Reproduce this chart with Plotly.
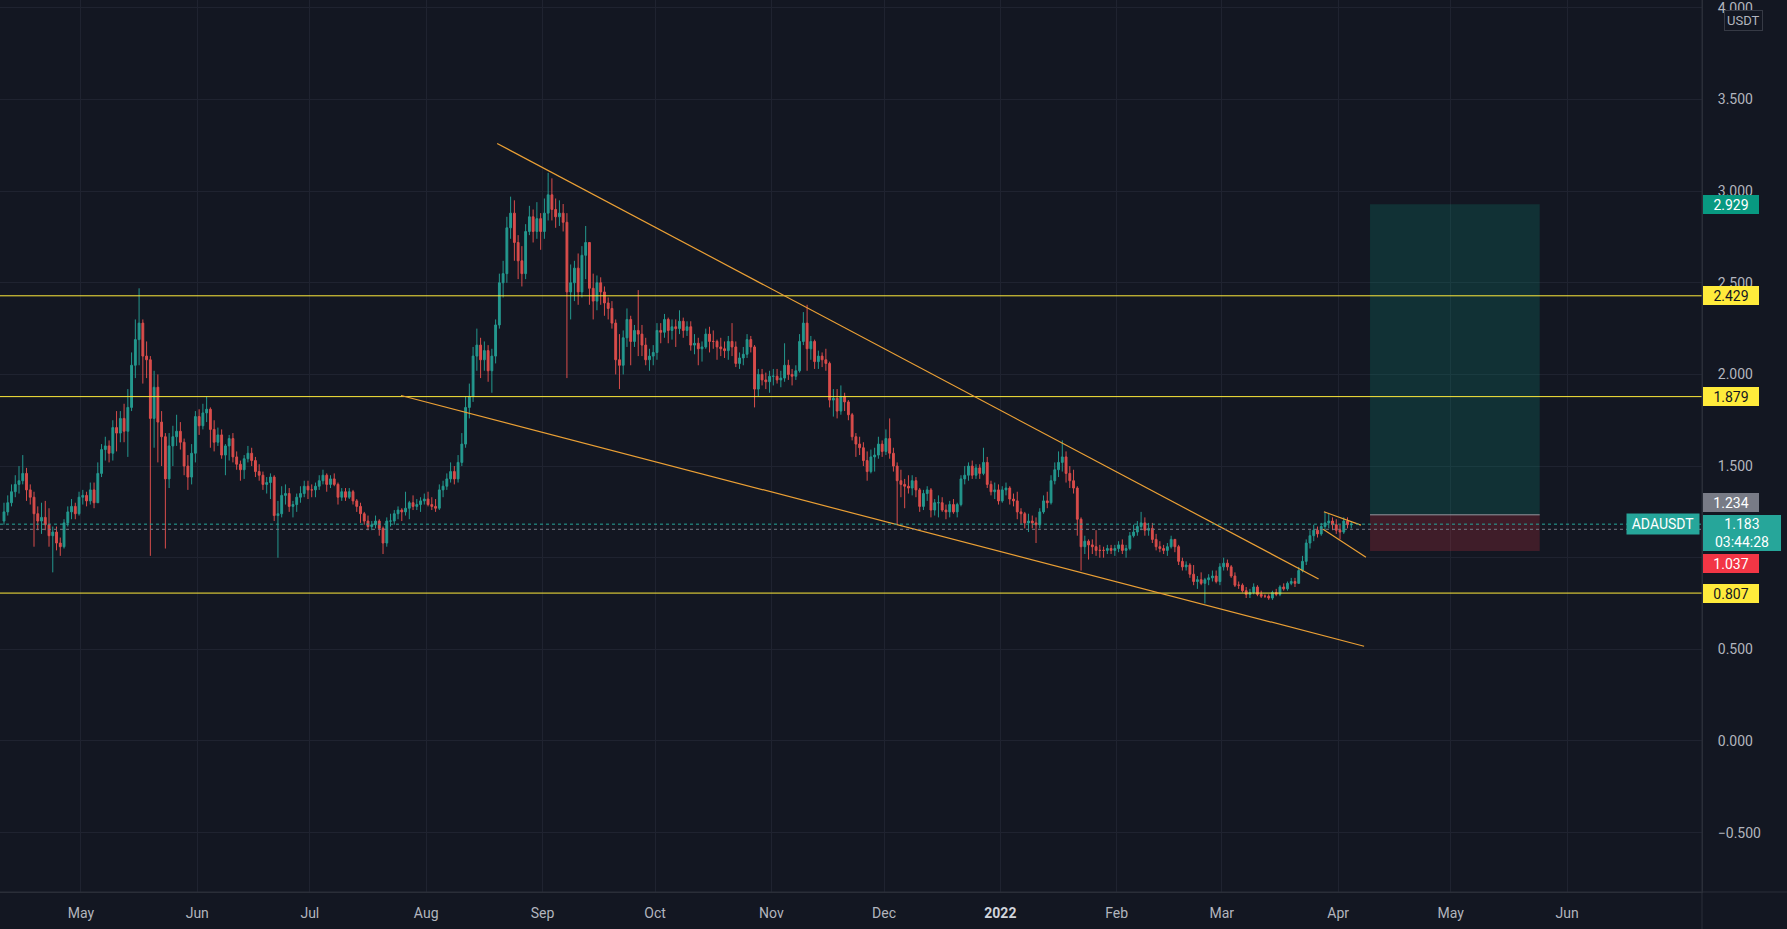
import pandas as pd
import plotly.graph_objects as go

# ---------------- data (daily candles) ----------------
start_day = "2021-04-10"
first_open = 1.20

closes = [
    # Apr 10-30 2021
    1.25, 1.30, 1.36, 1.40, 1.42, 1.46, 1.37, 1.33, 1.24, 1.20, 1.22, 1.18, 1.12, 1.14, 1.08, 1.06, 1.19, 1.25, 1.28, 1.24, 1.33,
    # May
    1.34, 1.31, 1.37, 1.30, 1.46, 1.59, 1.61, 1.57, 1.71, 1.68, 1.76, 1.69, 1.82, 2.05, 2.19, 2.28, 2.10, 2.08, 1.76, 1.93, 1.74, 1.66, 1.43, 1.61, 1.66, 1.69, 1.63, 1.50, 1.44, 1.57, 1.77,
    # Jun
    1.72, 1.79, 1.81, 1.70, 1.63, 1.67, 1.56, 1.61, 1.65, 1.55, 1.51, 1.48, 1.54, 1.57, 1.53, 1.47, 1.45, 1.40, 1.41, 1.44, 1.23, 1.24, 1.34, 1.35, 1.28, 1.29, 1.33, 1.35, 1.39, 1.37,
    # Jul
    1.37, 1.39, 1.42, 1.45, 1.40, 1.43, 1.40, 1.33, 1.36, 1.33, 1.36, 1.31, 1.28, 1.24, 1.20, 1.17, 1.18, 1.20, 1.16, 1.08, 1.20, 1.20, 1.24, 1.26, 1.25, 1.27, 1.30, 1.28, 1.29, 1.31, 1.32,
    # Aug
    1.29, 1.28, 1.27, 1.37, 1.39, 1.43, 1.47, 1.43, 1.52, 1.62, 1.82, 1.88, 2.10, 2.16, 2.08, 2.13, 2.02, 2.10, 2.27, 2.50, 2.55, 2.80, 2.88, 2.72, 2.62, 2.55, 2.78, 2.86, 2.78, 2.85, 2.78,
    # Sep
    2.88, 2.98, 2.90, 2.86, 2.88, 2.83, 2.45, 2.50, 2.58, 2.45, 2.65, 2.72, 2.47, 2.40, 2.50, 2.45, 2.39, 2.36, 2.28, 2.08, 2.05, 2.20, 2.30, 2.18, 2.24, 2.22, 2.16, 2.08, 2.10, 2.12,
    # Oct
    2.24, 2.23, 2.30, 2.24, 2.26, 2.25, 2.29, 2.24, 2.26, 2.16, 2.17, 2.14, 2.15, 2.22, 2.18, 2.18, 2.15, 2.14, 2.13, 2.18, 2.15, 2.06, 2.09, 2.11, 2.19, 2.15, 1.92, 2.00, 1.97, 1.96, 1.99,
    # Nov
    1.99, 1.97, 1.98, 2.05, 2.00, 1.99, 2.02, 2.18, 2.28, 2.14, 2.18, 2.07, 2.10, 2.08, 2.06, 1.86, 1.87, 1.80, 1.88, 1.85, 1.78, 1.66, 1.62, 1.60, 1.53, 1.47, 1.55, 1.56, 1.62, 1.58,
    # Dec
    1.65, 1.57, 1.50, 1.42, 1.40, 1.39, 1.38, 1.42, 1.37, 1.28, 1.35, 1.37, 1.26, 1.30, 1.30, 1.26, 1.25, 1.29, 1.25, 1.29, 1.43, 1.45, 1.50, 1.45, 1.49, 1.46, 1.52, 1.40, 1.36, 1.37, 1.31,
    # Jan 2022
    1.37, 1.38, 1.32, 1.31, 1.25, 1.24, 1.19, 1.20, 1.19, 1.18, 1.25, 1.31, 1.30, 1.42, 1.48, 1.52, 1.55, 1.46, 1.42, 1.38, 1.21, 1.06, 1.09, 1.07, 1.06, 1.04, 1.04, 1.04, 1.05, 1.04, 1.05,
    # Feb
    1.07, 1.04, 1.05, 1.12, 1.14, 1.17, 1.19, 1.15, 1.16, 1.10, 1.06, 1.05, 1.04, 1.06, 1.10, 1.06, 0.98, 0.95, 0.96, 0.91, 0.87, 0.88, 0.86, 0.88, 0.89, 0.90, 0.87, 0.95,
    # Mar
    0.97, 0.95, 0.90, 0.85, 0.85, 0.82, 0.80, 0.81, 0.84, 0.80, 0.79, 0.79, 0.78, 0.81, 0.80, 0.84, 0.83, 0.86, 0.87, 0.86, 0.93, 0.98, 1.08, 1.12, 1.15, 1.13, 1.17, 1.19, 1.20, 1.18, 1.15,
    # Apr 1-4
    1.14, 1.20, 1.18, 1.183,
]

highs = [
    1.30, 1.34, 1.40, 1.45, 1.50, 1.56, 1.49, 1.40, 1.36, 1.28, 1.30, 1.31, 1.27, 1.17, 1.17, 1.11, 1.21, 1.28, 1.32, 1.30, 1.36,
    1.37, 1.36, 1.41, 1.41, 1.52, 1.62, 1.66, 1.64, 1.75, 1.80, 1.80, 1.84, 1.92, 2.12, 2.30, 2.47, 2.30, 2.18, 2.10, 2.02, 2.00, 1.80, 1.68, 1.68, 1.72, 1.78, 1.74, 1.65, 1.56, 1.62, 1.80,
    1.81, 1.84, 1.88, 1.82, 1.75, 1.71, 1.70, 1.62, 1.67, 1.68, 1.58, 1.53, 1.56, 1.61, 1.60, 1.55, 1.51, 1.47, 1.44, 1.46, 1.45, 1.31, 1.39, 1.40, 1.38, 1.31, 1.35, 1.39, 1.42, 1.42,
    1.40, 1.41, 1.45, 1.48, 1.46, 1.45, 1.46, 1.41, 1.38, 1.38, 1.38, 1.37, 1.32, 1.30, 1.25, 1.23, 1.20, 1.23, 1.21, 1.17, 1.22, 1.24, 1.26, 1.28, 1.27, 1.36, 1.31, 1.34, 1.32, 1.33, 1.35,
    1.36, 1.33, 1.32, 1.40, 1.42, 1.46, 1.52, 1.50, 1.56, 1.68, 1.88, 1.95, 2.15, 2.25, 2.20, 2.18, 2.16, 2.14, 2.30, 2.55, 2.62, 2.86, 2.97, 2.95, 2.76, 2.70, 2.82, 2.92, 2.90, 2.94, 2.88,
    2.96, 3.10, 3.07, 2.96, 2.95, 2.93, 2.88, 2.60, 2.62, 2.66, 2.70, 2.81, 2.72, 2.55, 2.54, 2.53, 2.48, 2.42, 2.40, 2.30, 2.22, 2.24, 2.36, 2.32, 2.27, 2.46, 2.27, 2.20, 2.14, 2.16,
    2.28, 2.28, 2.33, 2.31, 2.30, 2.30, 2.35, 2.31, 2.29, 2.29, 2.22, 2.20, 2.18, 2.25, 2.26, 2.24, 2.19, 2.20, 2.18, 2.21, 2.28, 2.18, 2.12, 2.15, 2.22, 2.21, 2.16, 2.03, 2.03, 2.01, 2.02,
    2.03, 2.03, 2.02, 2.17, 2.08, 2.03, 2.05, 2.22, 2.34, 2.38, 2.21, 2.19, 2.13, 2.12, 2.14, 2.07, 1.92, 1.92, 1.94, 1.90, 1.86, 1.79, 1.68, 1.66, 1.63, 1.58, 1.59, 1.60, 1.66, 1.64,
    1.70, 1.76, 1.60, 1.52, 1.48, 1.43, 1.45, 1.45, 1.44, 1.38, 1.37, 1.39, 1.38, 1.32, 1.34, 1.33, 1.29, 1.31, 1.32, 1.30, 1.45, 1.50, 1.52, 1.53, 1.51, 1.51, 1.60, 1.55, 1.42, 1.41, 1.40,
    1.39, 1.41, 1.39, 1.35, 1.36, 1.27, 1.25, 1.24, 1.23, 1.22, 1.27, 1.34, 1.36, 1.45, 1.52, 1.58, 1.64, 1.58, 1.50, 1.48, 1.39, 1.22, 1.12, 1.10, 1.10, 1.15, 1.07, 1.06, 1.07, 1.07, 1.07,
    1.09, 1.10, 1.07, 1.14, 1.18, 1.20, 1.25, 1.22, 1.19, 1.19, 1.13, 1.09, 1.07, 1.08, 1.12, 1.10, 1.07, 1.00, 0.98, 0.97, 0.96, 0.90, 0.92, 0.89, 0.91, 0.93, 0.93, 0.97,
    1.00, 0.99, 0.96, 0.92, 0.87, 0.86, 0.84, 0.83, 0.86, 0.85, 0.82, 0.80, 0.80, 0.82, 0.83, 0.85, 0.86, 0.87, 0.89, 0.89, 0.95, 1.01, 1.10, 1.15, 1.18, 1.17, 1.19, 1.25, 1.24, 1.22, 1.21,
    1.18, 1.22, 1.22, 1.20,
]

lows = [
    1.18, 1.23, 1.28, 1.33, 1.35, 1.40, 1.31, 1.29, 1.06, 1.15, 1.13, 1.15, 1.06, 0.92, 1.04, 1.01, 1.05, 1.17, 1.21, 1.21, 1.23,
    1.29, 1.28, 1.29, 1.27, 1.30, 1.44, 1.53, 1.52, 1.53, 1.58, 1.63, 1.63, 1.55, 1.80, 1.98, 2.05, 1.95, 1.98, 1.01, 1.60, 1.52, 1.50, 1.05, 1.38, 1.50, 1.61, 1.59, 1.45, 1.37, 1.40, 1.52,
    1.67, 1.70, 1.74, 1.60, 1.58, 1.61, 1.54, 1.45, 1.53, 1.52, 1.48, 1.42, 1.43, 1.52, 1.50, 1.44, 1.42, 1.37, 1.35, 1.32, 1.20, 1.00, 1.22, 1.29, 1.25, 1.22, 1.25, 1.30, 1.33, 1.32,
    1.33, 1.33, 1.37, 1.40, 1.36, 1.38, 1.39, 1.29, 1.31, 1.31, 1.32, 1.29, 1.25, 1.19, 1.18, 1.15, 1.15, 1.16, 1.12, 1.02, 1.06, 1.17, 1.18, 1.21, 1.20, 1.23, 1.21, 1.26, 1.26, 1.25, 1.29,
    1.28, 1.26, 1.25, 1.26, 1.33, 1.37, 1.41, 1.40, 1.41, 1.50, 1.60, 1.76, 1.85, 2.02, 1.98, 2.02, 1.96, 1.90, 2.06, 2.25, 2.42, 2.50, 2.74, 2.62, 2.52, 2.48, 2.52, 2.76, 2.72, 2.74, 2.68,
    2.74, 2.84, 2.84, 2.80, 2.81, 2.78, 1.98, 2.30, 2.40, 2.38, 2.42, 2.52, 2.38, 2.30, 2.35, 2.38, 2.32, 2.30, 2.25, 2.00, 1.92, 2.00, 2.15, 2.05, 2.15, 2.10, 2.10, 2.05, 2.02, 2.05,
    2.08, 2.17, 2.20, 2.17, 2.19, 2.15, 2.22, 2.20, 2.21, 2.13, 2.11, 2.05, 2.07, 2.14, 2.12, 2.14, 2.08, 2.10, 2.09, 2.08, 2.10, 2.04, 2.03, 2.05, 2.09, 2.12, 1.82, 1.88, 1.94, 1.92, 1.90,
    1.94, 1.95, 1.93, 1.96, 1.97, 1.94, 1.97, 2.01, 2.16, 2.02, 2.08, 2.03, 2.03, 2.04, 2.02, 1.82, 1.77, 1.76, 1.78, 1.80, 1.75, 1.64, 1.55, 1.56, 1.50, 1.42, 1.46, 1.47, 1.54, 1.55,
    1.56, 1.54, 1.47, 1.18, 1.33, 1.27, 1.35, 1.34, 1.33, 1.25, 1.26, 1.31, 1.22, 1.23, 1.22, 1.25, 1.21, 1.22, 1.24, 1.22, 1.28, 1.40, 1.42, 1.43, 1.43, 1.43, 1.45, 1.38, 1.34, 1.32, 1.29,
    1.30, 1.34, 1.29, 1.28, 1.21, 1.18, 1.16, 1.14, 1.16, 1.08, 1.16, 1.24, 1.27, 1.29, 1.40, 1.44, 1.47, 1.41, 1.38, 1.35, 1.12, 0.93, 1.02, 0.99, 1.02, 1.01, 1.00, 1.00, 1.02, 1.02, 1.01,
    1.03, 1.02, 1.00, 1.04, 1.11, 1.12, 1.15, 1.12, 1.12, 1.08, 1.04, 1.03, 1.02, 1.01, 1.05, 1.03, 0.96, 0.93, 0.93, 0.89, 0.85, 0.83, 0.85, 0.75, 0.85, 0.87, 0.86, 0.85,
    0.93, 0.93, 0.89, 0.84, 0.83, 0.81, 0.78, 0.78, 0.80, 0.79, 0.78, 0.78, 0.77, 0.77, 0.79, 0.79, 0.82, 0.82, 0.85, 0.84, 0.86, 0.92, 0.96, 1.05, 1.09, 1.11, 1.12, 1.15, 1.16, 1.15, 1.13,
    1.10, 1.13, 1.16, 1.16,
]

# drawings
level_lines = [2.429, 1.879, 0.807]
trend_lines = [
    ("2021-08-19 22:00", 3.26, "2022-03-26 19:00", 0.884),
    ("2021-07-25 07:00", 1.885, "2022-04-07 22:00", 0.517),
    ("2022-03-28 05:00", 1.251, "2022-04-07 02:00", 1.178),
    ("2022-03-28 00:00", 1.155, "2022-04-08 10:00", 1.002),
]
position_start = "2022-04-09 12:00"
position_end = "2022-05-24 17:00"
target_price = 2.929
entry_price = 1.234
stop_price = 1.037
last_price = 1.183
open_line_price = 1.155
countdown = "03:44:28"
symbol = "ADAUSDT"

month_ticks = ["2021-05-01", "2021-06-01", "2021-07-01", "2021-08-01", "2021-09-01", "2021-10-01",
               "2021-11-01", "2021-12-01", "2022-01-01", "2022-02-01", "2022-03-01", "2022-04-01",
               "2022-05-01", "2022-06-01"]
month_labels = ["May", "Jun", "Jul", "Aug", "Sep", "Oct", "Nov", "Dec",
                "<b><span style='color:#d1d4dc'>2022</span></b>", "Feb", "Mar", "Apr", "May", "Jun"]
price_ticks = [-0.5, 0.0, 0.5, 1.0, 1.5, 2.0, 2.5, 3.0, 3.5, 4.0]
# the 1.000 label is covered by the price tags in the reference
price_tick_labels = ["\u22120.500", "0.000", "0.500", "", "1.500", "2.000", "2.500", "3.000", "3.500", "4.000"]

# ---------------- figure ----------------
BG = "#131722"
GRID = "#1f2330"
BORDER = "#2a2e39"
TXT = "#b2b5be"
FONT = "Roboto, Liberation Sans, sans-serif"

n = min(len(closes), len(highs), len(lows))
dates = pd.date_range(start_day, periods=n, freq="D") + pd.Timedelta(hours=12)
opens = [first_open] + closes[: n - 1]

fig = go.Figure()
fig.add_trace(go.Candlestick(
    x=dates, open=opens, high=highs[:n], low=lows[:n], close=closes[:n],
    increasing=dict(line=dict(color="#26a69a", width=1), fillcolor="#26a69a"),
    decreasing=dict(line=dict(color="#ef5350", width=1), fillcolor="#ef5350"),
    whiskerwidth=0, hoverinfo="skip", showlegend=False, opacity=0.9,
))

shapes = []
# position tool
shapes.append(dict(type="rect", xref="x", yref="y", x0=position_start, x1=position_end,
                   y0=entry_price, y1=target_price, fillcolor="rgba(8,153,129,0.2)",
                   line=dict(width=0), layer="above"))
shapes.append(dict(type="rect", xref="x", yref="y", x0=position_start, x1=position_end,
                   y0=stop_price, y1=entry_price, fillcolor="rgba(242,54,69,0.2)",
                   line=dict(width=0), layer="above"))
shapes.append(dict(type="line", xref="x", yref="y", x0=position_start, x1=position_end,
                   y0=entry_price, y1=entry_price, line=dict(color="#9598a1", width=1), layer="above"))
# horizontal levels
for lv in level_lines:
    shapes.append(dict(type="line", xref="paper", yref="y", x0=0, x1=1, y0=lv, y1=lv,
                       line=dict(color="#ffeb3b", width=1), layer="above"))
# trend lines
for x0, y0, x1, y1 in trend_lines:
    shapes.append(dict(type="line", xref="x", yref="y", x0=x0, y0=y0, x1=x1, y1=y1,
                       line=dict(color="#eba035", width=1.2), layer="above"))
# price lines (dotted)
shapes.append(dict(type="line", xref="paper", yref="y", x0=0, x1=1, y0=last_price, y1=last_price,
                   line=dict(color="#26a69a", width=1, dash="dot"), layer="above"))
shapes.append(dict(type="line", xref="paper", yref="y", x0=0, x1=1, y0=open_line_price, y1=open_line_price,
                   line=dict(color="#787b86", width=1, dash="dot"), layer="above"))
# panel separators extending into the margins
shapes.append(dict(type="line", xref="paper", yref="paper", x0=1, x1=1, y0=-0.05, y1=1,
                   line=dict(color=BORDER, width=1), layer="above"))
shapes.append(dict(type="line", xref="paper", yref="paper", x0=0, x1=1.06, y0=0, y1=0,
                   line=dict(color=BORDER, width=1), layer="above"))

annotations = []


def axis_label(val, text, bg, fg, yshift=0, width=54, height=17):
    annotations.append(dict(
        xref="paper", yref="y", x=1, y=val, xanchor="left", yanchor="middle",
        xshift=1, yshift=yshift, text=text, showarrow=False, align="center",
        width=width, height=height, bgcolor=bg, borderpad=1, borderwidth=0,
        font=dict(family=FONT, size=14, color=fg)))


axis_label(target_price, f"{target_price:.3f}", "#089981", "#ffffff")
for lv in level_lines:
    axis_label(lv, f"{lv:.3f}", "#ffeb3b", "#131722")
axis_label(entry_price, f"{entry_price:.3f}", "#787b86", "#ffffff", yshift=12)
axis_label(last_price, f"{last_price:.3f}<br>{countdown}", "#26a69a", "#ffffff",
           yshift=-9, width=76, height=34)
axis_label(stop_price, f"{stop_price:.3f}", "#f23645", "#ffffff", yshift=-13)

annotations.append(dict(
    xref="paper", yref="y", x=1, y=last_price, xanchor="right", yanchor="middle",
    xshift=-2, text=symbol, showarrow=False, width=70, height=18, bgcolor="#26a69a",
    borderpad=1, font=dict(family=FONT, size=14, color="#ffffff")))
annotations.append(dict(
    xref="paper", yref="paper", x=1, y=1, xanchor="left", yanchor="top",
    xshift=22, yshift=-10, text="USDT", showarrow=False, bgcolor=BG,
    bordercolor="#363a45", borderwidth=1, borderpad=2,
    font=dict(family=FONT, size=13, color=TXT)))

fig.update_layout(
    width=1787, height=929,
    margin=dict(l=0, r=85, t=0, b=37),
    paper_bgcolor=BG, plot_bgcolor=BG,
    showlegend=False, hovermode=False,
    shapes=shapes, annotations=annotations,
    xaxis=dict(
        range=["2021-04-09 10:30", "2022-07-06 23:00"],
        rangeslider=dict(visible=False),
        tickvals=month_ticks, ticktext=month_labels,
        showgrid=True, gridcolor=GRID, gridwidth=1, zeroline=False,
        showline=True, linecolor=BORDER, ticks="", ticklabelstandoff=8,
        tickfont=dict(family=FONT, size=14, color=TXT),
    ),
    yaxis=dict(
        side="right", range=[-0.824, 4.043],
        tickvals=price_ticks, ticktext=price_tick_labels,
        showgrid=True, gridcolor=GRID, gridwidth=1, zeroline=False,
        showline=True, linecolor=BORDER, ticks="", ticklabelstandoff=12,
        ticklabeloverflow="allow",
        tickfont=dict(family=FONT, size=14, color=TXT),
    ),
)

fig.write_html("out.html", config={"displayModeBar": False})
